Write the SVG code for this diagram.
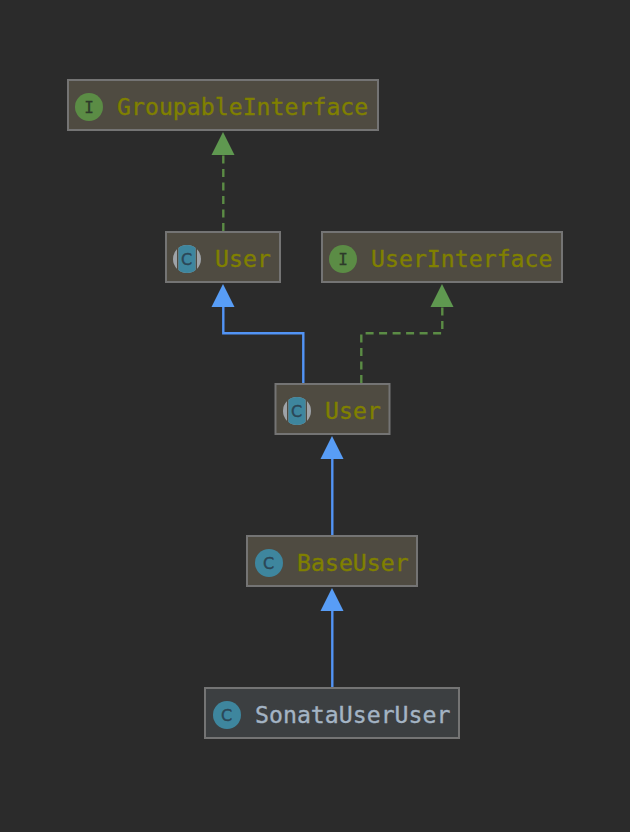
<svg xmlns="http://www.w3.org/2000/svg" width="630" height="832" viewBox="0 0 630 832">
<style>
.box{fill:#4f4b41;stroke:#747474;stroke-width:2}
.plain{fill:#3c3f41}
.name{font-family:"DejaVu Sans Mono",monospace;font-size:23.2px;fill:#808000;stroke:#808000;stroke-width:.35}
.plainname{fill:#a4b4c4;stroke:#a4b4c4}
.ic{fill:#3e869e}
.ii{fill:#5b8c45}
.ig{font-family:"DejaVu Sans",sans-serif;font-size:16px;text-anchor:middle;fill:#2b4656;stroke:#2b4656;stroke-width:.4}
.iig{font-family:"DejaVu Sans Mono",monospace;font-size:16px;text-anchor:middle;fill:#2d3a2a;stroke:#2d3a2a;stroke-width:.3}
.side{fill:#9ea3a8}
.blue{fill:none;stroke:#5294f6;stroke-width:2.4}
.green{fill:none;stroke:#5b8c45;stroke-width:2.4;stroke-dasharray:8 5.5}
.ah{fill:#589df6}
.ag{fill:#5f9850}
</style>
<defs>
<clipPath id="ab"><rect x="-8.500" y="-14" width="17" height="28"/></clipPath>
<g id="abs">
<circle r="14" class="side"/>
<rect x="-10" y="-15" width="1.500" height="30" fill="#4f4b41"/>
<rect x="8.500" y="-15" width="1.500" height="30" fill="#4f4b41"/>
<circle r="14" class="ic" clip-path="url(#ab)"/>
</g>
</defs>
<rect width="630" height="832" fill="#2b2b2b"/>
<g id="connectors">
<path class="green" d="M223.300 231V154"/>
<path class="ag" d="M223 132L234.500 155H211.500Z"/>
<path class="blue" d="M223.300 306V333.300H303.300V383"/>
<path class="ah" d="M223 284L234.500 307H211.500Z"/>
<path class="green" d="M361.300 383V333.300H442.300V306"/>
<path class="ag" d="M442 284L453.500 307H430.500Z"/>
<path class="blue" d="M332.300 458V535"/>
<path class="ah" d="M332 436L343.500 459H320.500Z"/>
<path class="blue" d="M332.300 610V687"/>
<path class="ah" d="M332 588L343.500 611H320.500Z"/>
</g>
<g id="node-groupable">
<rect class="box" x="68" y="80" width="310" height="50"/>
<circle class="ii" cx="89" cy="107" r="14"/>
<text class="iig" x="89" y="113">I</text>
<text class="name" x="117" y="115">GroupableInterface</text>
</g>
<g id="node-user-a">
<rect class="box" x="166" y="232" width="114" height="50"/>
<use href="#abs" x="187" y="259"/>
<text class="ig" x="186.500" y="265">C</text>
<text class="name" x="215" y="267">User</text>
</g>
<g id="node-userinterface">
<rect class="box" x="322" y="232" width="240" height="50"/>
<circle class="ii" cx="343" cy="259" r="14"/>
<text class="iig" x="343" y="265">I</text>
<text class="name" x="371" y="267">UserInterface</text>
</g>
<g id="node-user-b">
<rect class="box" x="275.500" y="384" width="114" height="50"/>
<use href="#abs" x="297" y="411"/>
<text class="ig" x="296.500" y="417">C</text>
<text class="name" x="325" y="419">User</text>
</g>
<g id="node-baseuser">
<rect class="box" x="247" y="536" width="170" height="50"/>
<circle class="ic" cx="269" cy="563" r="14"/>
<text class="ig" x="268.500" y="569">C</text>
<text class="name" x="297" y="571">BaseUser</text>
</g>
<g id="node-sonata">
<rect class="box plain" x="205" y="688" width="254" height="50"/>
<circle class="ic" cx="227" cy="715" r="14"/>
<text class="ig" x="226.500" y="721">C</text>
<text class="name plainname" x="255" y="723">SonataUserUser</text>
</g>
</svg>
